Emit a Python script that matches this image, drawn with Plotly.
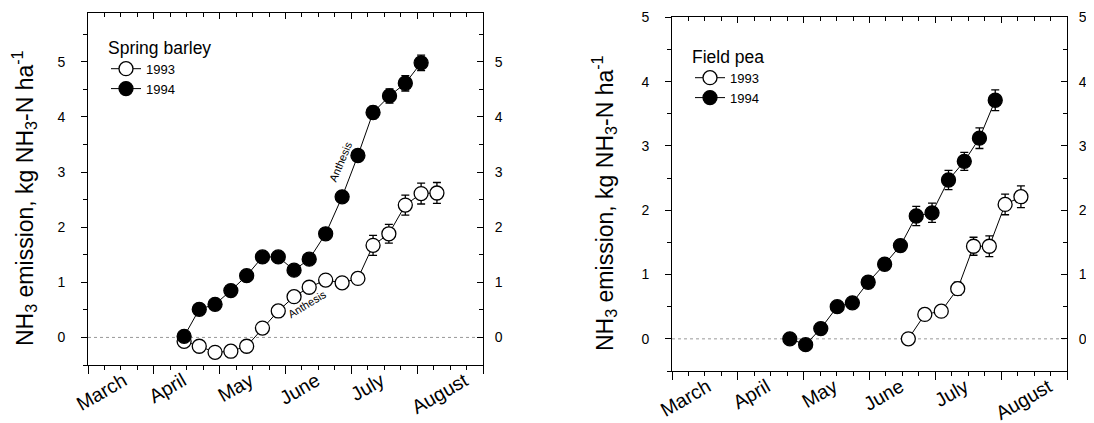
import plotly.graph_objects as go

# ---------------- data (x = months after 1 March) ----------------
barley_1993_x = [1.46, 1.69, 1.93, 2.17, 2.41, 2.65, 2.89, 3.13, 3.36, 3.61, 3.86, 4.10, 4.33, 4.57, 4.82, 5.06, 5.30]
barley_1993_y = [-0.07, -0.16, -0.27, -0.25, -0.16, 0.17, 0.48, 0.74, 0.91, 1.04, 0.99, 1.07, 1.67, 1.88, 2.40, 2.61, 2.62]
barley_1993_err = [0.03, 0.03, 0.03, 0.03, 0.03, 0.04, 0.04, 0.05, 0.06, 0.07, 0.08, 0.08, 0.18, 0.17, 0.18, 0.19, 0.19]

barley_1994_x = [1.46, 1.69, 1.93, 2.17, 2.41, 2.65, 2.89, 3.13, 3.36, 3.61, 3.86, 4.10, 4.33, 4.58, 4.82, 5.06]
barley_1994_y = [0.02, 0.51, 0.60, 0.85, 1.12, 1.46, 1.46, 1.22, 1.42, 1.88, 2.55, 3.30, 4.08, 4.38, 4.61, 4.98]
barley_1994_err = [0.03, 0.04, 0.04, 0.05, 0.05, 0.06, 0.06, 0.06, 0.07, 0.08, 0.09, 0.10, 0.11, 0.13, 0.14, 0.14]

pea_1993_x = [3.59, 3.84, 4.09, 4.34, 4.58, 4.82, 5.06, 5.30]
pea_1993_y = [0.00, 0.38, 0.43, 0.78, 1.44, 1.44, 2.09, 2.21]
pea_1993_err = [0.04, 0.05, 0.06, 0.10, 0.14, 0.16, 0.16, 0.17]

pea_1994_x = [1.79, 2.03, 2.26, 2.51, 2.74, 2.98, 3.23, 3.47, 3.71, 3.95, 4.20, 4.44, 4.67, 4.91]
pea_1994_y = [0.00, -0.09, 0.16, 0.50, 0.56, 0.88, 1.16, 1.45, 1.91, 1.96, 2.47, 2.76, 3.12, 3.71]
pea_1994_err = [0.03, 0.03, 0.04, 0.05, 0.05, 0.06, 0.07, 0.09, 0.15, 0.15, 0.15, 0.14, 0.16, 0.16]

month_labels = ["March", "April", "May", "June", "July", "August"]
month_label_pos = [0.54, 1.44, 2.46, 3.47, 4.45, 5.72]
y_ticks = [0, 1, 2, 3, 4, 5]

FONT = "Arial, Liberation Sans, sans-serif"
W, H = 1094, 423
PAGE_OFFSET = 8  # default body margin of the html page

def px_x(p):
    return (p - PAGE_OFFSET) / W

def px_y(p):
    return 1 - (p - PAGE_OFFSET) / H

fig = go.Figure()

def add_series(x, y, err, filled, xa, ya, name, legend):
    fig.add_trace(go.Scatter(
        x=x, y=y, mode="lines+markers", name=name, legend=legend,
        xaxis=xa, yaxis=ya,
        line=dict(color="black", width=1),
        marker=dict(size=14, color="black" if filled else "white",
                    line=dict(color="black", width=1.3), symbol="circle"),
        error_y=dict(type="data", array=err, visible=True, color="black",
                     thickness=1.3, width=4),
    ))

add_series(barley_1993_x, barley_1993_y, barley_1993_err, False, "x", "y", "1993", "legend")
add_series(barley_1994_x, barley_1994_y, barley_1994_err, True, "x", "y", "1994", "legend")
add_series(pea_1993_x, pea_1993_y, pea_1993_err, False, "x4", "y3", "1993", "legend2")
add_series(pea_1994_x, pea_1994_y, pea_1994_err, True, "x4", "y3", "1994", "legend2")

# empty helper traces so that the overlay axes (top ticks, month labels, right axis) are drawn
for xa, ya in [("x2", "y"), ("x3", "y"), ("x", "y2"), ("x5", "y3"), ("x6", "y3"), ("x4", "y4")]:
    fig.add_trace(go.Scatter(x=[], y=[], xaxis=xa, yaxis=ya, showlegend=False,
                             hoverinfo="skip", mode="markers"))

def panel(xs, ys, xdom, ydom, yrange, xid, yid):
    xb, xt, xl = xs
    yl, yr = ys
    base_x = dict(range=[0, 6], showgrid=False, zeroline=False, showline=True,
                  linecolor="black", linewidth=1, tick0=0, dtick=1, automargin=False,
                  showticklabels=False, tickcolor="black", tickwidth=1)
    fig.update_layout(**{
        xb: dict(base_x, domain=xdom, anchor=yid, ticks="outside", ticklen=8,
                 minor=dict(dtick=0.25, tick0=0, ticks="outside", ticklen=4,
                            tickcolor="black", tickwidth=1)),
        xt: dict(base_x, overlaying=xid, anchor=yid, side="top", ticks="inside", ticklen=6,
                 minor=dict(dtick=0.25, tick0=0, ticks="inside", ticklen=4,
                            tickcolor="black", tickwidth=1)),
        xl: dict(range=[0, 6], overlaying=xid, anchor=yid, side="bottom", automargin=False,
                 showgrid=False, zeroline=False, showline=False, ticks="",
                 tickmode="array", tickvals=month_label_pos, ticktext=month_labels,
                 tickangle=-30, tickfont=dict(family=FONT, size=19.5, color="black")),
        yl: dict(domain=ydom, anchor=xid, range=yrange, showgrid=False, zeroline=False,
                 showline=True, linecolor="black", linewidth=1, automargin=False,
                 ticks="outside", ticklen=6, tickcolor="black",
                 tickmode="array", tickvals=y_ticks,
                 minor=dict(dtick=0.5, tick0=0, ticks="outside", ticklen=4, tickcolor="black"),
                 tickfont=dict(family=FONT, size=14, color="black"), ticklabelstandoff=13),
        yr: dict(overlaying=yid, anchor=xid, side="right", range=yrange, showgrid=False,
                 zeroline=False, showline=True, linecolor="black", linewidth=1, automargin=False,
                 ticks="inside", ticklen=6, tickcolor="black",
                 tickmode="array", tickvals=y_ticks,
                 minor=dict(dtick=0.5, tick0=0, ticks="inside", ticklen=4, tickcolor="black"),
                 tickfont=dict(family=FONT, size=14, color="black"), ticklabelstandoff=8),
    })
    fig.add_shape(type="line", xref=f"{xid} domain", yref=yid, x0=0, x1=1, y0=0, y1=0,
                  line=dict(color="#999999", width=1, dash="dot"), layer="below")

panel(("xaxis", "xaxis2", "xaxis3"), ("yaxis", "yaxis2"),
      [px_x(88), px_x(483)], [px_y(365), px_y(12.7)], [-0.5, 5.89], "x", "y")
panel(("xaxis4", "xaxis5", "xaxis6"), ("yaxis3", "yaxis4"),
      [px_x(672), px_x(1067)], [px_y(371), px_y(17.3)], [-0.5, 5.0], "x4", "y3")

title_txt = "NH<sub>3</sub> emission, kg NH<sub>3</sub>-N ha<sup>-1</sup>"
for xc, yc in [(24, 198), (604, 203)]:
    fig.add_annotation(text=title_txt, xref="paper", yref="paper", x=px_x(xc), y=px_y(yc),
                       xanchor="center", yanchor="middle", textangle=-90, showarrow=False,
                       font=dict(family=FONT, size=23, color="black"))

# Anthesis markers
fig.add_annotation(text="Anthesis", xref="x", yref="y", x=3.83, y=3.19, textangle=-67,
                   showarrow=False, font=dict(family=FONT, size=11, color="black"))
fig.add_annotation(text="Anthesis", xref="x", yref="y", x=3.33, y=0.60, textangle=-31,
                   showarrow=False, font=dict(family=FONT, size=11, color="black"))

legend_common = dict(xanchor="left", yanchor="top", bgcolor="rgba(0,0,0,0)",
                     font=dict(family=FONT, size=13, color="black"),
                     tracegroupgap=0, itemwidth=30)
fig.update_layout(
    width=W, height=H, margin=dict(l=0, r=0, t=0, b=0, autoexpand=False),
    plot_bgcolor="white", paper_bgcolor="white",
    font=dict(family=FONT, color="black"),
    showlegend=True,
    legend=dict(legend_common, x=px_x(106), y=px_y(31),
                title=dict(text="Spring barley", font=dict(family=FONT, size=17.5, color="black"))),
    legend2=dict(legend_common, x=px_x(690), y=px_y(40),
                 title=dict(text="Field pea", font=dict(family=FONT, size=17.5, color="black"))),
)

fig.write_html("out.html")
